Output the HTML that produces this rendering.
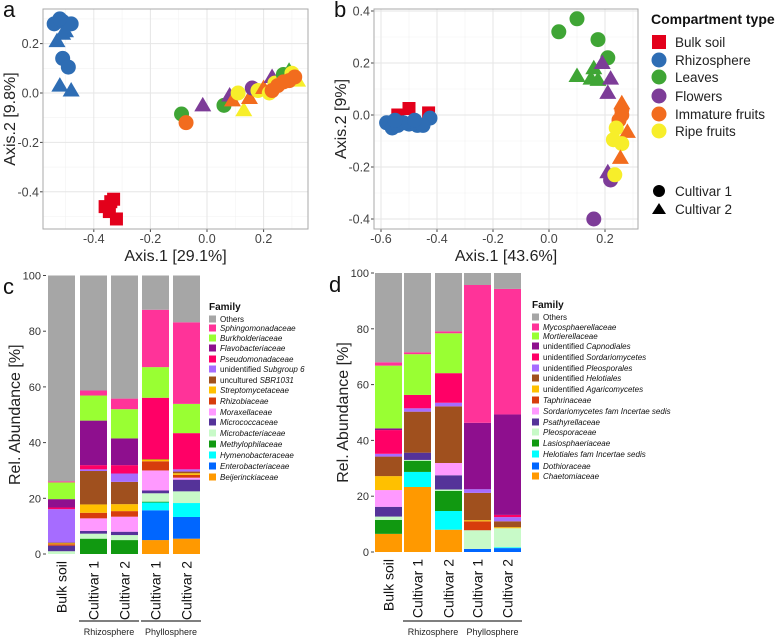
<!DOCTYPE html>
<html><head><meta charset="utf-8"><style>
html,body{margin:0;padding:0;background:#fff;}
svg{display:block;font-family:"Liberation Sans",Arial,sans-serif;}
</style></head><body>
<svg id="fig" width="784" height="638" viewBox="0 0 784 638" xmlns="http://www.w3.org/2000/svg">
<g id="pa"></g>
<g id="pb"></g>
<g id="pc"></g>
<g id="pd"></g>
</svg>
<script>
// ---------- scatter data ----------
const groupNames = ["Bulk soil","Rhizosphere","Leaves","Flowers","Immature fruits","Ripe fruits"];
const groupColors = ["#e3001b","#2e6db4","#3fa535","#7d3c98","#f26c1e","#f7ee2a"];
// [group, cultivar(1 circle,2 triangle,0 square), x, y]
const aPoints = [
 [1,1,-0.54,0.28],[1,1,-0.51,0.29],[1,1,-0.48,0.28],[1,1,-0.52,0.3],[1,1,-0.51,0.14],[1,1,-0.49,0.105],
 [1,2,-0.53,0.21],[1,2,-0.5,0.25],[1,2,-0.51,0.24],[1,2,-0.52,0.03],[1,2,-0.48,0.01],
 [0,0,-0.34,-0.44],[0,0,-0.36,-0.46],[0,0,-0.33,-0.43],[0,0,-0.345,-0.48],[0,0,-0.32,-0.51],
 [2,1,-0.09,-0.085],[4,1,-0.074,-0.12],[3,2,-0.015,-0.05],
 [2,1,0.06,-0.05],[3,2,0.08,-0.01],[4,2,0.09,-0.03],[5,1,0.11,0.0],[5,2,0.13,-0.07],
 [4,2,0.15,-0.02],[3,1,0.16,0.02],[5,1,0.18,0.01],[4,2,0.2,0.02],[5,1,0.22,0.0],[3,2,0.23,0.065],
 [5,1,0.24,0.04],[2,1,0.27,0.075],[2,2,0.29,0.09],[5,1,0.3,0.08],[5,2,0.32,0.05],
 [4,1,0.23,0.01],[4,1,0.25,0.03],[4,1,0.27,0.045],[4,1,0.29,0.05],[4,1,0.31,0.065]
];
const bPoints = [
 [2,1,0.1,0.37],[2,1,0.035,0.32],[2,1,0.175,0.29],[2,1,0.21,0.22],
 [2,2,0.1,0.15],[2,2,0.16,0.18],[2,2,0.175,0.135],[2,2,0.15,0.14],
 [3,2,0.19,0.2],[3,2,0.22,0.14],[3,2,0.21,0.085],
 [4,2,0.26,0.045],[4,1,0.26,0.0],[4,1,0.25,-0.02],[4,1,0.26,0.02],[4,2,0.28,-0.065],
 [5,1,0.23,-0.095],[5,1,0.26,-0.11],[5,1,0.24,-0.05],
 [4,2,0.255,-0.165],[3,2,0.21,-0.22],[3,1,0.22,-0.25],[5,1,0.235,-0.23],[3,1,0.16,-0.4],
 [0,0,-0.5,0.025],[0,0,-0.43,0.008],[0,0,-0.54,0.0],
 [1,1,-0.58,-0.03],[1,1,-0.56,-0.05],[1,1,-0.54,-0.04],[1,1,-0.52,-0.03],[1,1,-0.5,-0.035],
 [1,1,-0.47,-0.04],[1,1,-0.425,-0.012],[1,1,-0.55,-0.02],[1,1,-0.45,-0.04],[1,1,-0.48,-0.02]
];
const aXTicks = [-0.4,-0.2,0.0,0.2];
const aYTicks = [-0.4,-0.2,0.0,0.2];
const bXTicks = [-0.6,-0.4,-0.2,0.0,0.2];
const bYTicks = [-0.4,-0.2,0.0,0.2,0.4];

// ---------- bar data ----------
const barLabels = ["Bulk soil","Cultivar 1","Cultivar 2","Cultivar 1","Cultivar 2"];
const famColors = ["#a6a6a6","#ff3399","#99ff33","#8e0f8e","#ff0066","#a66cff","#a0501e","#ffc000","#d73c0c","#ff99ff","#553399","#c8fac8","#119911","#00ffff","#0066ff","#ff9900"];
const bacFamilies = ["Others","Sphingomonadaceae","Burkholderiaceae","Flavobacteriaceae","Pseudomonadaceae","unidentified |Subgroup 6","uncultured |SBR1031","Streptomycetaceae","Rhizobiaceae","Moraxellaceae","Micrococcaceae","Microbacteriaceae","Methylophilaceae","Hymenobacteraceae","Enterobacteriaceae","Beijerinckiaceae"];
// values listed bottom(Beij) -> top(Sphingo); Others = remainder
const bacBulk = [0,0,0,0,1,2,0,0.5,0.3,0.3,12,0.6,3,6,0.4];
const bacRhC1 = [0,0,0,5.5,1.8,1,4.5,2,3,12,0.6,1.5,16,9,1.8];
const bacRhC2 = [0,0,0,5,1.8,1.2,5.4,2,2.5,8,3,3,9.6,10.5,3.8];
const bacPhC1 = [5,10.7,2.8,0.3,3,1,7.2,3.3,0.6,0.2,0,22,0,11,20.6];
const bacPhC2 = [5.5,7.8,5,0,4.2,4.2,0.7,1,0.6,0.6,0.8,13,0,10.5,29.3];
const funFamilies = ["Others","Mycosphaerellaceae","Mortierellaceae","unidentified |Capnodiales","unidentified |Sordariomycetes","unidentified |Pleosporales","unidentified |Helotiales","unidentified |Agaricomycetes","Taphrinaceae","Sordariomycetes fam Incertae sedis","Psathyrellaceae","Pleosporaceae","Lasiosphaeriaceae","Helotiales fam Incertae sedis","Dothioraceae","Chaetomiaceae"];
const funBulk = [6.5,0,0,5,1.2,3.5,6,0,5,7,1,8.5,0.6,22.5,1.2];
const funRhC1 = [23.3,0,5.4,4,0.3,2.6,0,0,0,14.7,1.2,4.8,0,14.6,0.7];
const funRhC2 = [8,0,6.7,7.2,0.5,5.1,4.4,0,0,20.3,1.3,10.6,0,14.3,0.7];
const funPhC1 = [0,1.1,0,0,6.7,0,0,3.2,0.4,9.8,1.3,0,23.8,0,49.4];
const funPhC2 = [0,1.4,0.3,0,6.8,0,0,0,0.4,2.1,1.5,0.8,36,0,45];
const barTicks = [0,20,40,60,80,100];

const NS="http://www.w3.org/2000/svg";
function mk(parent,tag,attrs,text){const e=document.createElementNS(NS,tag);for(const k in attrs)e.setAttribute(k,attrs[k]);if(text!==undefined)e.textContent=text;parent.appendChild(e);return e;}

function scatter(g,pts,xt,yt,box,xs,ys,xlab,ylab,letter,minorX,minorY){
  const X=v=>box.x0val+v*xs, Y=v=>box.y0val-v*ys;
  mk(g,"rect",{x:box.l,y:box.t,width:box.r-box.l,height:box.b-box.t,fill:"#fff"});
  minorX.forEach(v=>{mk(g,"line",{x1:X(v),x2:X(v),y1:box.t,y2:box.b,stroke:"#f2f2f2","stroke-width":0.6});});
  minorY.forEach(v=>{mk(g,"line",{x1:box.l,x2:box.r,y1:Y(v),y2:Y(v),stroke:"#f2f2f2","stroke-width":0.6});});
  xt.forEach(v=>{
    mk(g,"line",{x1:X(v),x2:X(v),y1:box.t,y2:box.b,stroke:"#e6e6e6","stroke-width":1});
    mk(g,"line",{x1:X(v),x2:X(v),y1:box.b,y2:box.b+3,stroke:"#444","stroke-width":1});
    const t=mk(g,"text",{x:X(v),y:box.b+14,"font-size":"12.5","text-anchor":"middle",fill:"#444"},v.toFixed(1));
    
    
  });
  yt.forEach(v=>{
    mk(g,"line",{x1:box.l,x2:box.r,y1:Y(v),y2:Y(v),stroke:"#e6e6e6","stroke-width":1});
    mk(g,"line",{x1:box.l-3,x2:box.l,y1:Y(v),y2:Y(v),stroke:"#444","stroke-width":1});
    const t=mk(g,"text",{x:box.l-4,y:Y(v)+4.5,"font-size":"12.5","text-anchor":"end",fill:"#444"},v.toFixed(1));
    
    
  });
  mk(g,"rect",{x:box.l,y:box.t,width:box.r-box.l,height:box.b-box.t,fill:"none",stroke:"#aaa","stroke-width":1});
  const cl=mk(g,"g",{});
  pts.forEach(p=>{
    const cx=X(p[2]),cy=Y(p[3]),c=groupColors[p[0]];let e;
    if(p[1]===0) e=mk(cl,"rect",{x:cx-6.5,y:cy-6.5,width:13,height:13,fill:c});
    else if(p[1]===1) e=mk(cl,"circle",{cx:cx,cy:cy,r:7.5,fill:c});
    else e=mk(cl,"polygon",{points:`${cx},${cy-8.5} ${cx-8.5},${cy+6} ${cx+8.5},${cy+6}`,fill:c});
    
    
  });
  const xl=mk(g,"text",{x:(box.l+box.r)/2,y:box.b+32,"font-size":"16","text-anchor":"middle",fill:"#222","xml:space":"preserve"},xlab);
  
  
  const yc=(box.t+box.b)/2;
  const yl=mk(g,"text",{x:0,y:0,"font-size":"16","text-anchor":"middle",fill:"#222",transform:`translate(${box.l-28},${yc}) rotate(-90)`,"xml:space":"preserve"},ylab);
  
  
  const pl=mk(g,"text",{x:letter[0],y:letter[1],"font-size":"22",fill:"#111"},letter[2]);
  
  
}

scatter(document.getElementById("pa"),aPoints,aXTicks,aYTicks,{l:43,r:308,t:9,b:229,x0val:207,y0val:93},283,247,"Axis.1   [29.1%]","Axis.2   [9.8%]",[3,17,"a"],[-0.5,-0.3,-0.1,0.1,0.3],[-0.5,-0.3,-0.1,0.1,0.3]);
scatter(document.getElementById("pb"),bPoints,bXTicks,bYTicks,{l:374,r:638,t:9,b:229,x0val:549,y0val:115},280,260,"Axis.1   [43.6%]","Axis.2   [9%]",[334,17,"b"],[-0.5,-0.3,-0.1,0.1,0.3],[-0.3,-0.1,0.1,0.3]);

// legend b
(function(){
  const g=document.getElementById("pb");
  const lg=mk(g,"g",{});
  
  
  mk(lg,"text",{x:651,y:24,"font-size":"14","font-weight":"bold",fill:"#111"},"Compartment type");
  const ys=[42,60,77,96,114,131];
  groupNames.forEach((n,i)=>{
    const y=ys[i];let e;
    if(i===0) e=mk(lg,"rect",{x:652,y:y-7,width:14,height:14,fill:groupColors[i]});
    else e=mk(lg,"circle",{cx:659,cy:y,r:7.5,fill:groupColors[i]});
    const t=mk(lg,"text",{x:675,y:y+5,"font-size":"13.5",fill:"#222"},n);
    
    
  });
  mk(lg,"circle",{cx:659,cy:191,r:6,fill:"#000"});
  mk(lg,"text",{x:675,y:196,"font-size":"13.5",fill:"#222"},"Cultivar 1");
  mk(lg,"polygon",{points:"659,203 652,214 666,214",fill:"#000"});
  mk(lg,"text",{x:675,y:214,"font-size":"13.5",fill:"#222"},"Cultivar 2");
})();

function bars(g,series,families,bx,bw,y0,ppu,axisX,letter,legX,legYs){
  const Y=v=>y0-v*ppu;
  barTicks.forEach(v=>{
    mk(g,"line",{x1:axisX,x2:axisX+3,y1:Y(v),y2:Y(v),stroke:"#444"});
    const t=mk(g,"text",{x:axisX-2,y:Y(v)+4,"font-size":"11","text-anchor":"end",fill:"#333"},String(v));
    
    
  });
  const yl=mk(g,"text",{x:0,y:0,"font-size":"16","text-anchor":"middle",fill:"#222",transform:`translate(${axisX-23},${Y(50)}) rotate(-90)`},"Rel. Abundance [%]");
  
  
  series.forEach((vals,i)=>{
    const x=bx[i];let acc=0;
    const n=vals.length;
    vals.forEach((v,j)=>{
      if(v>0){const r=mk(g,"rect",{x:x,y:Y(acc+v),width:bw,height:v*ppu,fill:famColors[n-j]});
        
        }
      acc+=v;
    });
    const rr=mk(g,"rect",{x:x,y:Y(100),width:bw,height:(100-acc)*ppu,fill:famColors[0]});
    
    
    const t=mk(g,"text",{x:0,y:0,"font-size":"14","text-anchor":"end",fill:"#111",transform:`translate(${x+bw/2+5},${y0+7}) rotate(-90)`},barLabels[i]);
    
    
  });
  mk(g,"line",{x1:bx[1]-1,x2:bx[2]+bw+1,y1:621,y2:621,stroke:"#333","stroke-width":1.3});
  mk(g,"line",{x1:bx[3]-1,x2:bx[4]+bw+1,y1:621,y2:621,stroke:"#333","stroke-width":1.3});
  const r1=mk(g,"text",{x:(bx[1]+bx[2]+bw)/2,y:635,"font-size":"9","text-anchor":"middle",fill:"#222"},"Rhizosphere");
  
  
  const r2=mk(g,"text",{x:(bx[3]+bx[4]+bw)/2,y:635,"font-size":"9","text-anchor":"middle",fill:"#222"},"Phyllosphere");
  
  
  const pl=mk(g,"text",{x:letter[0],y:letter[1],"font-size":"22",fill:"#111"},letter[2]);
  
  
  const lg=mk(g,"g",{});
  
  
  mk(lg,"text",{x:legX,y:legYs[0]-12,"font-size":"10","font-weight":"bold",fill:"#111"},"Family");
  families.forEach((f,i)=>{
    const y=legYs[i];
    mk(lg,"rect",{x:legX,y:y-6.5,width:7,height:7,fill:famColors[i]});
    const t=mk(lg,"text",{x:legX+11,y:y,"font-size":"8",fill:"#111"});
    
    
    const parts=f.split("|");
    if(parts.length===2){mk(t,"tspan",{},parts[0]);mk(t,"tspan",{"font-style":"italic"},parts[1]);}
    else if(i===0){t.textContent=f;}
    else {mk(t,"tspan",{"font-style":"italic"},f);}
  });
}
const legC=[322,331,341,351,362,372,383,393,404,415,425,436,447,458,469,480];
const legD=[320,330,339,349,360,371,381,392,403,414,425,435,446,457,469,479];
bars(document.getElementById("pc"),[bacBulk,bacRhC1,bacRhC2,bacPhC1,bacPhC2],bacFamilies,[48,80,111,142,173],27,554,2.785,43,[3,294,"c"],209,legC);
bars(document.getElementById("pd"),[funBulk,funRhC1,funRhC2,funPhC1,funPhC2],funFamilies,[375,404,435,464,494],27,552,2.79,371,[329,292,"d"],532,legD);
</script>
</body></html>
